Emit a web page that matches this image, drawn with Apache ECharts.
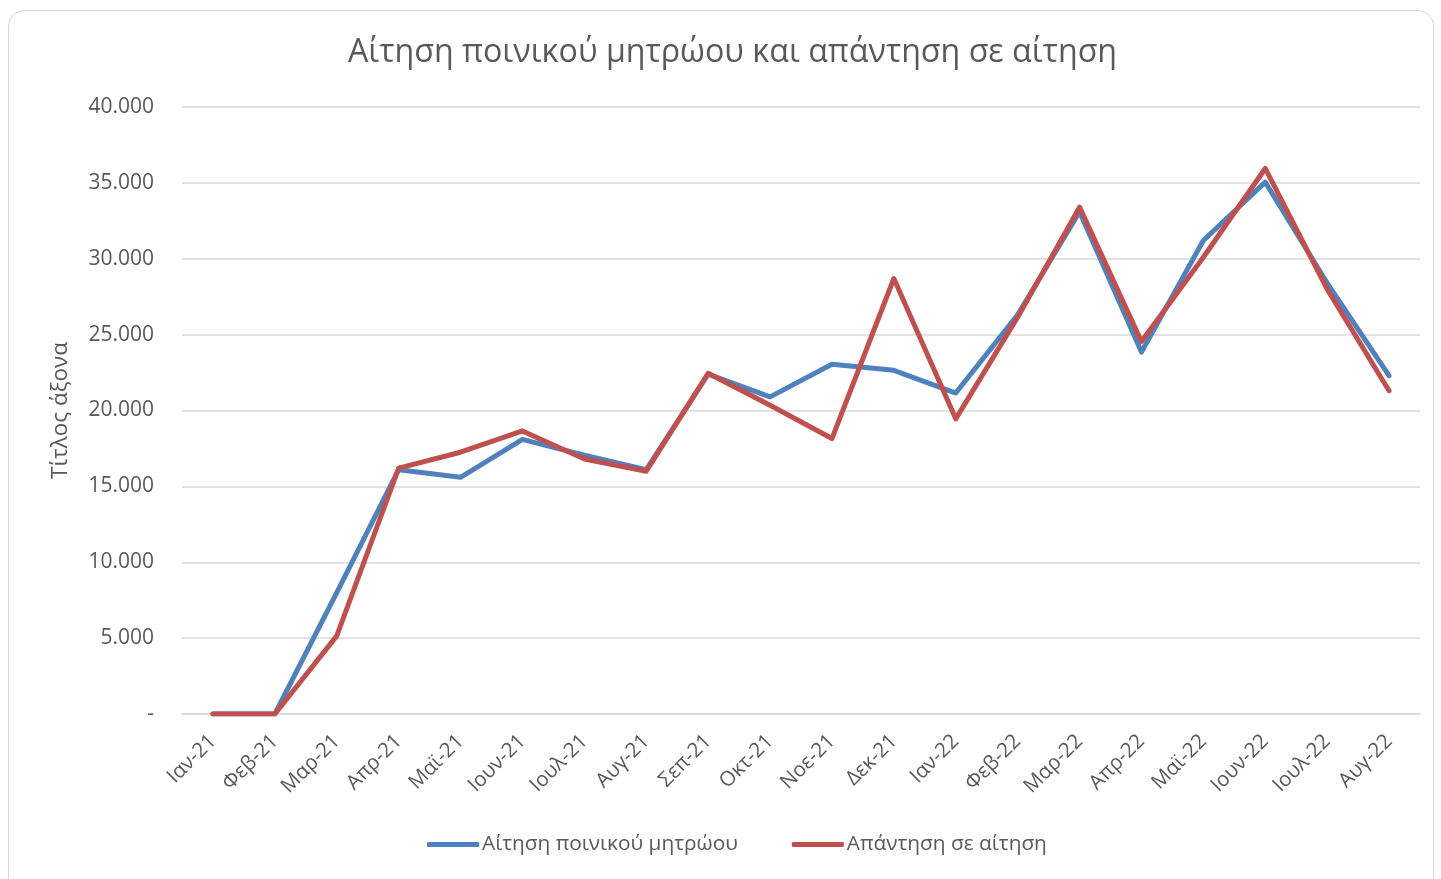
<!DOCTYPE html>
<html>
<head>
<meta charset="utf-8">
<script src="https://cdn.jsdelivr.net/npm/echarts@6/dist/echarts.min.js"></script>
<style>
  html, body { margin: 0; padding: 0; background: #fff; }
  #main { width: 1441px; height: 879px; }
  #frame {
    position: absolute; left: 8px; top: 10px; width: 1424px; height: 890px;
    border: 1.5px solid #d9d9d9; border-radius: 16px; pointer-events: none;
  }
</style>
</head>
<body>
<div id="main"></div>
<div id="frame"></div>
<script>
// μήνες
var months = ['Ιαν-21', 'Φεβ-21', 'Μαρ-21', 'Απρ-21', 'Μαϊ-21', 'Ιουν-21', 'Ιουλ-21', 'Αυγ-21',
    'Σεπ-21', 'Οκτ-21', 'Νοε-21', 'Δεκ-21', 'Ιαν-22', 'Φεβ-22', 'Μαρ-22', 'Απρ-22',
    'Μαϊ-22', 'Ιουν-22', 'Ιουλ-22', 'Αυγ-22'];

var requests = [0, 0, 8000, 16100, 15600, 18100, 17050, 16100,
    22400, 20900, 23050, 22650, 21150, 26300, 33100, 23850,
    31200, 35050, 28400, 22300];

var answers = [0, 0, 5150, 16200, 17250, 18650, 16800, 16000,
    22450, 20350, 18150, 28700, 19450, 26150, 33400, 24550,
    30100, 35950, 28000, 21300];

var seriesNames = ['Αίτηση ποινικού μητρώου', 'Απάντηση σε αίτηση'];
var colors = ['#4F81BD', '#C0504D'];

var dom = document.getElementById('main');
var myChart = echarts.init(dom);
var option;

function fmt(v) {
    if (v === 0) return '-';
    return String(v).replace(/\B(?=(\d{3})+(?!\d))/g, '.');
}

var font = '"Open Sans", "Noto Sans", sans-serif';

option = {
    animation: false,
    color: colors,
    title: {
        text: 'Αίτηση ποινικού μητρώου και απάντηση σε αίτηση',
        left: 343,
        top: 32,
        textStyle: { fontFamily: font, fontSize: 32.2, fontWeight: 'normal', color: '#595959' }
    },
    legend: {
        bottom: 19,
        left: 422,
        itemWidth: 52,
        itemHeight: 5,
        itemGap: 54,
        icon: 'roundRect',
        textStyle: { fontFamily: font, fontSize: 20.8, color: '#595959', padding: [0, 0, 0, -2] },
        data: seriesNames
    },
    grid: { left: 182, right: 21, top: 107, bottom: 165 },
    xAxis: {
        type: 'category',
        data: months,
        boundaryGap: true,
        axisLine: { lineStyle: { color: '#d9d9d9', width: 1.5 } },
        axisTick: { show: false },
        axisLabel: {
            interval: 0,
            rotate: 45,
            margin: 24,
            fontFamily: font,
            fontSize: 20.5,
            color: '#595959'
        }
    },
    yAxis: {
        type: 'value',
        min: 0,
        max: 40000,
        interval: 5000,
        name: 'Τίτλος άξονα',
        nameLocation: 'middle',
        nameGap: 110,
        nameRotate: 90,
        nameTextStyle: { fontFamily: font, fontSize: 22.5, color: '#595959' },
        axisLine: { show: false },
        axisTick: { show: false },
        splitLine: { lineStyle: { color: '#d9d9d9', width: 1.5 } },
        axisLabel: {
            formatter: fmt,
            margin: 28,
            fontFamily: font,
            fontSize: 21,
            color: '#595959'
        }
    },
    series: [
        {
            name: seriesNames[0],
            type: 'line',
            data: requests,
            symbol: 'none',
            lineStyle: { width: 5, cap: 'round', join: 'round' }
        },
        {
            name: seriesNames[1],
            type: 'line',
            data: answers,
            symbol: 'none',
            lineStyle: { width: 5, cap: 'round', join: 'round' }
        }
    ]
};

myChart.setOption(option);
</script>
</body>
</html>
